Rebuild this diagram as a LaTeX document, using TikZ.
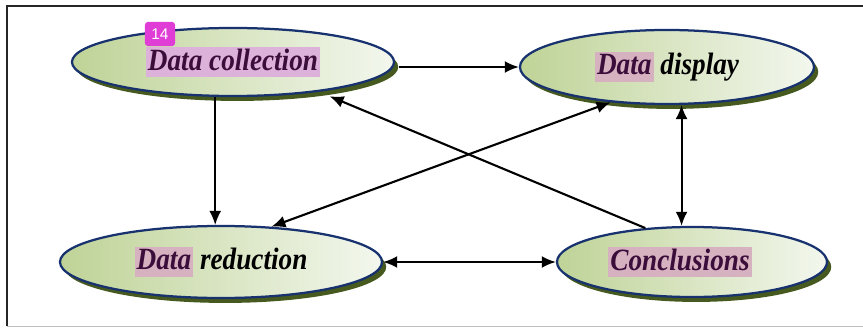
\documentclass[tikz,border=0pt]{standalone}
\usepackage{fontspec}
\usepackage{xcolor}
\usepackage{tikz}
\usetikzlibrary{shapes.geometric}
\usetikzlibrary{shadows}
\usetikzlibrary{arrows.meta}

\newfontfamily\labelfont[FakeStretch=0.88]{Liberation Serif}
\newfontfamily\badgefont{Liberation Sans}

\definecolor{rimblue}{HTML}{17326E}
\definecolor{leafgreen}{HTML}{BFD397}
\definecolor{palegreen}{HTML}{F3F7EE}
\definecolor{mossgreen}{HTML}{46591F}
\definecolor{hlpurple}{HTML}{DDB2DA}
\definecolor{hlrose}{HTML}{D6B1C0}
\definecolor{inkpurple}{HTML}{3B0D3A}
\definecolor{badgepink}{HTML}{E03CD6}

\newcommand{\hlword}[2]{{\setlength{\fboxsep}{1.5pt}\colorbox{#1}{\rule[-3.5pt]{0pt}{16.5pt}\color{inkpurple}#2}}}

\begin{document}
\begin{tikzpicture}[
  x=0.025cm, y=-0.025cm,
  >={Latex[length=10pt,width=8.5pt]},
  font=\labelfont\bfseries\itshape\fontsize{22}{24}\selectfont
]
\tikzset{
    phase/.style = {ellipse, draw=rimblue, line width=1.6pt, inner sep=0pt,
                    left color=leafgreen, right color=palegreen,
                    drop shadow={shadow xshift=3pt, shadow yshift=-3.5pt, fill=mossgreen, opacity=1}},
    link/.style = {line width=1.5pt},
    badge/.style = {fill=badgepink, rounded corners=2pt, text=white, minimum width=0.75cm,
                    minimum height=0.6cm, inner sep=0pt, font=\badgefont\fontsize{11}{11}\selectfont}
}
\useasboundingbox (0,0) rectangle (863,328);
% frame
\draw[black!85, line width=0.8pt] (863,6) -- (7,6) -- (7,326);
\draw[black!25, line width=0.6pt] (7,326) -- (863,326);

% the four phases
\node[phase, minimum width=8.05cm, minimum height=1.7cm] (coll) at (233,62) {\hlword{hlpurple}{Data collection}};
\node[phase, minimum width=7.35cm, minimum height=1.85cm] (disp) at (667,67) {\hlword{hlrose}{Data} display};
\node[phase, minimum width=8.05cm, minimum height=1.8cm] (red) at (221,262) {\hlword{hlrose}{Data} reduction};
\node[phase, minimum width=6.75cm, minimum height=1.75cm] (concl) at (692,262) {\hlword{hlrose}{Conclusions}\hspace{0.6cm}\mbox{}};

\node[badge] (num) at (160,34) {14};

% connectors
\draw[link,->] ([xshift=3pt]coll.east |- disp.west) -- (disp.west);
\draw[line width=1.1pt,->] (coll.243) -- (coll.243 |- red.north);
\draw[link,->] (concl.144) -- ([xshift=2pt,yshift=-4pt]coll.343);
\draw[link,<->] (disp.212) -- (red.35);
\draw[link,<->] (disp.291) -- (disp.291 |- concl.north);
\draw[link,<->] (red.east) -- (concl.west);
\end{tikzpicture}
\end{document}
